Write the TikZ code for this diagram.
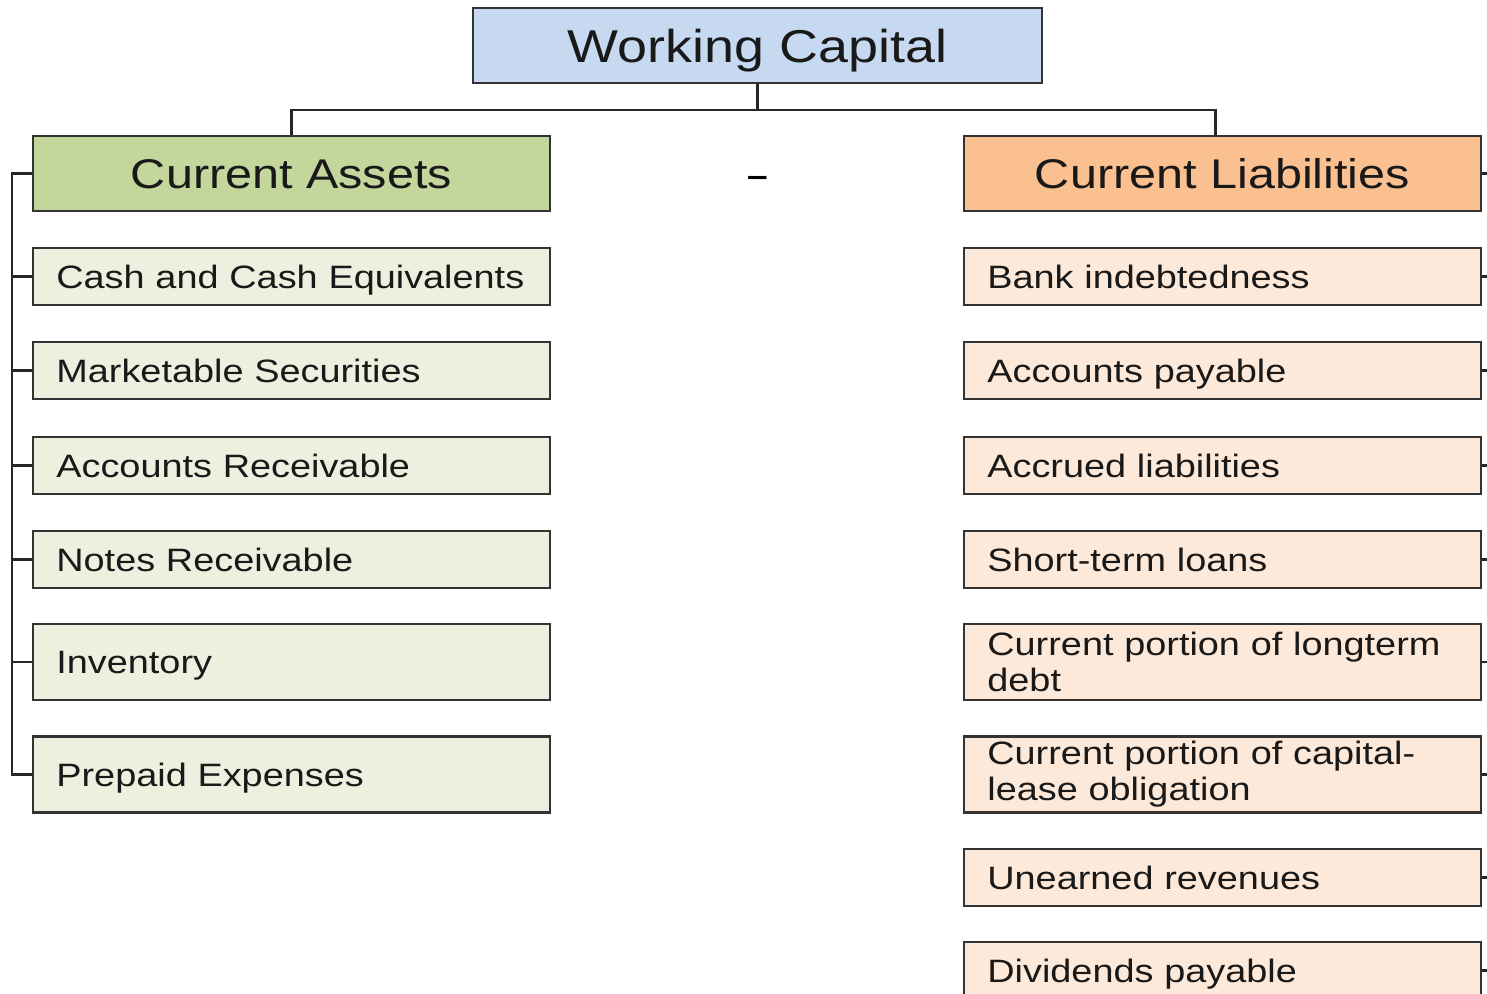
\documentclass[tikz,border=0pt]{standalone}
\usepackage{fontspec}
\setmainfont{Liberation Sans}[FakeStretch=1.17]
\usetikzlibrary{calc}

\definecolor{wcblue}{HTML}{C6D9F1}
\definecolor{cagreen}{HTML}{C3D69B}
\definecolor{clorange}{HTML}{FAC090}
\definecolor{assetbg}{HTML}{EBF1DE}
\definecolor{liabbg}{HTML}{FDE9D9}
\definecolor{edgegray}{HTML}{333333}

\begin{document}
\begin{tikzpicture}[
		x=0.01cm,
		y=-0.01cm,
		box/.style={draw=edgegray, line width=0.7pt, text=black!90},
		oneline/.style={text height=6.6pt, text depth=0pt},
		headbox/.style={box, minimum width=5.17cm, minimum height=0.75cm, text height=8.45pt, text depth=0pt, font=\fontsize{11.8}{14}\selectfont},
		itembox/.style={box, minimum width=5.17cm, minimum height=0.57cm, text width=4.7cm, inner xsep=0.235cm, inner ysep=0.05cm, align=left, font=\fontsize{9.2}{10.3}\selectfont},
		asset/.style={itembox, fill=assetbg},
		liab/.style={itembox, fill=liabbg},
		conn/.style={draw=black!85, line width=0.6pt}
		]
		
		\useasboundingbox (0,0) rectangle (1487,994);
		\clip (0,0) rectangle (1487,994);
		
		% top
		\node[box, fill=wcblue, minimum width=5.69cm, minimum height=0.75cm, text height=9.4pt, text depth=0pt, font=\fontsize{13.1}{15}\selectfont]
		(wc) at (757.5,45.5) {Working Capital};
		\node[headbox, fill=cagreen] (ca) at (291.5,173.5) {Current Assets};
		\node[headbox, fill=clorange] (cl) at (1222.5,173.5) {Current Liabilities};
		\node[anchor=base, font=\fontsize{9}{11}\selectfont\bfseries] (minus) at (757.5,186.5) {--};
		
		% current assets
		\node[asset, oneline] (a1) at (291.5,276.5) {Cash and Cash Equivalents};
		\node[asset, oneline] (a2) at (291.5,370.5) {Marketable Securities};
		\node[asset, oneline] (a3) at (291.5,465.5) {Accounts Receivable};
		\node[asset, oneline] (a4) at (291.5,559.5) {Notes Receivable};
		\node[asset, oneline, minimum height=0.76cm] (a5) at (291.5,662) {Inventory};
		\node[asset, oneline, minimum height=0.76cm] (a6) at (291.5,774.5) {Prepaid Expenses};
		
		% current liabilities
		\node[liab, oneline] (l1) at (1222.5,276.5) {Bank indebtedness};
		\node[liab, oneline] (l2) at (1222.5,370.5) {Accounts payable};
		\node[liab, oneline] (l3) at (1222.5,465.5) {Accrued liabilities};
		\node[liab, oneline] (l4) at (1222.5,559.5) {Short-term loans};
		\node[liab, minimum height=0.76cm] (l5) at (1222.5,662) {Current portion of longterm\\debt};
		\node[liab, minimum height=0.76cm] (l6) at (1222.5,774.5) {Current portion of capital-\\lease obligation};
		\node[liab, oneline] (l7) at (1222.5,877.5) {Unearned revenues};
		\node[liab, oneline] (l8) at (1222.5,970.5) {Dividends payable};
		
		% connectors
		\coordinate (bus) at (757.5,110);
		\draw[conn] (wc.south) -- (bus);
		\draw[conn] (ca.north) |- (bus) -| ($(cl.north)+(-7,0)$);
		\draw[conn] (ca.west) -- ++(-20,0) |- (a6.west);
		\foreach \n in {a1,a2,a3,a4,a5}
		\draw[conn] (\n.west) -- ++(-20,0);
		\draw[conn] (cl.east) -- ++(20,0) |- (l8.east);
		\foreach \n in {l1,l2,l3,l4,l5,l6,l7}
		\draw[conn] (\n.east) -- ++(20,0);
		
	\end{tikzpicture}
\end{document}
